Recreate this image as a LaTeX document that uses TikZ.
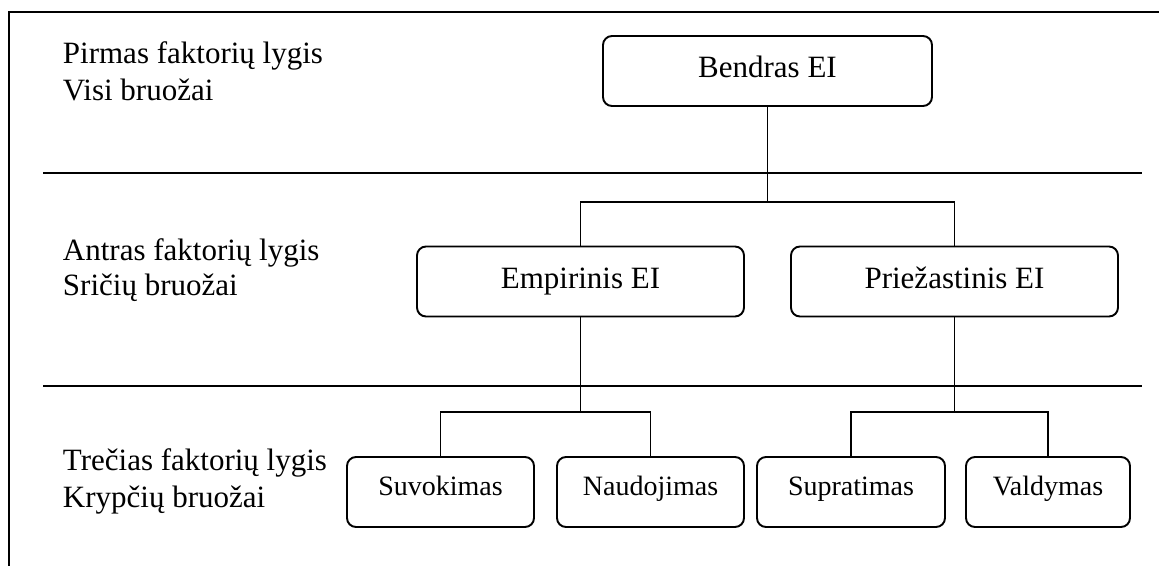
\documentclass[tikz,border=0pt]{standalone}
\usepackage{fontspec}
\setmainfont{Liberation Serif}
\begin{document}
\begin{tikzpicture}[x=1pt,y=-1pt,line width=1.9pt,
  lbl/.style={anchor=base west,inner sep=0pt,font=\fontsize{31}{37}\selectfont},
  bigbox/.style={draw,rounded corners=9pt,inner sep=0pt,minimum height=70pt,
    text height=21.7pt,text depth=7.8pt,font=\fontsize{31}{37}\selectfont},
  smallbox/.style={draw,rounded corners=9pt,inner sep=0pt,minimum height=70pt,
    text height=19.6pt,text depth=13.6pt,font=\fontsize{28}{33}\selectfont},
  sep/.style={line width=1.9pt}]
\useasboundingbox (0,0) rectangle (1159,566);
% frame (top and left edges)
\draw (1159,12) -- (9,12) -- (9,566);
% separators
\draw[sep] (43,173) -- (1142,173);
\draw[sep] (43,386) -- (1142,386);
% level labels
\node[lbl] (l1a) at (62,63) {Pirmas faktorių lygis};
\node[lbl] (l1b) at (62,100) {Visi bruožai};
\node[lbl] (l2a) at (62,260) {Antras faktorių lygis};
\node[lbl] (l2b) at (62,295) {Sričių bruožai};
\node[lbl] (l3a) at (62,470) {Trečias faktorių lygis};
\node[lbl] (l3b) at (62,507) {Krypčių bruožai};
% boxes
\node[bigbox,minimum width=329pt] (ben) at (767.5,71) {Bendras EI};
\node[bigbox,minimum width=327pt] (emp) at (580.5,281.5) {Empirinis EI};
\node[bigbox,minimum width=327pt] (pri) at (954.5,281.5) {Priežastinis EI};
\node[smallbox,minimum width=187pt] (suv) at (440.5,492) {Suvokimas};
\node[smallbox,minimum width=187pt] (nau) at (650.5,492) {Naudojimas};
\node[smallbox,minimum width=188pt] (sup) at (851,492) {Supratimas};
\node[smallbox,minimum width=164pt] (val) at (1048,492) {Valdymas};
% junctions
\coordinate (j1) at (767.5,202);
\coordinate (j2) at (580.5,412);
\coordinate (j3) at (954.5,412);
% connectors
\draw (ben.south) -- (j1);
\draw (emp.north) |- (j1) -| (pri.north);
\draw (emp.south) -- (j2);
\draw (suv.north) |- (j2) -| (nau.north);
\draw (pri.south) -- (j3);
\draw (sup.north) |- (j3) -| (val.north);
\end{tikzpicture}
\end{document}
